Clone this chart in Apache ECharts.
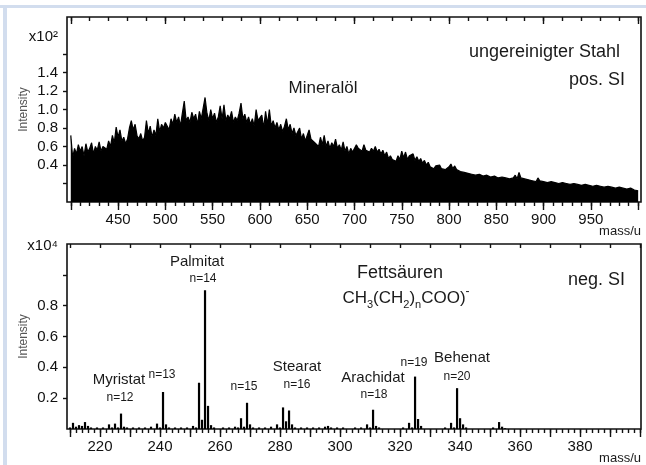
<!DOCTYPE html>
<html>
<head>
<meta charset="utf-8">
<title>Mineralöl / Fettsäuren</title>
<script src="https://cdn.jsdelivr.net/npm/echarts@6.0.0/dist/echarts.min.js"></script>
<style>
  html, body { margin: 0; padding: 0; background: #fff; }
  #main { width: 646px; height: 465px; }
</style>
</head>
<body>
<div id="main"></div>
<script>
// --- oberes Spektrum: ungereinigter Stahl, pos. SI (Intensität x10^2), Masse 400..1000 in Schritten von 2
var topMassStart = 400;
var topMassStep = 2;
var topIntensity = [
  0.72, 0.48, 0.58, 0.52, 0.62, 0.55, 0.60, 0.50, 0.63, 0.54,
  0.58, 0.64, 0.52, 0.60, 0.56, 0.65, 0.55, 0.60, 0.62, 0.57,
  0.66, 0.60, 0.72, 0.64, 0.81, 0.70, 0.78, 0.66, 0.70, 0.63,
  0.68, 0.80, 0.88, 0.78, 0.84, 0.72, 0.68, 0.74, 0.66, 0.70,
  0.88, 0.74, 0.82, 0.70, 0.78, 0.72, 0.90, 0.76, 0.84, 0.80,
  0.86, 0.88, 0.78, 0.90, 0.84, 0.95, 0.86, 0.92, 0.82, 0.96,
  1.09, 0.88, 0.92, 0.86, 0.97, 0.90, 0.95, 0.84, 0.98, 0.90,
  0.92, 1.13, 0.96, 0.88, 1.00, 0.90, 0.96, 0.86, 0.92, 1.04,
  0.90, 1.05, 0.88, 0.94, 0.90, 0.98, 0.86, 0.92, 0.88, 0.96,
  1.07, 0.90, 0.95, 0.86, 0.92, 0.84, 0.90, 0.82, 1.00, 0.88,
  0.86, 0.94, 0.80, 0.98, 0.84, 1.00, 0.82, 0.88, 0.80, 0.86,
  0.78, 0.84, 0.76, 0.82, 0.90, 0.78, 0.84, 0.74, 0.80, 0.72,
  0.70, 0.80, 0.68, 0.74, 0.66, 0.72, 0.78, 0.68, 0.70, 0.64,
  0.66, 0.60, 0.70, 0.62, 0.72, 0.60, 0.66, 0.58, 0.64, 0.60,
  0.68, 0.58, 0.62, 0.56, 0.65, 0.55, 0.60, 0.52, 0.58, 0.54,
  0.56, 0.62, 0.58, 0.60, 0.55, 0.62, 0.56, 0.58, 0.54, 0.58,
  0.55, 0.60, 0.54, 0.57, 0.52, 0.56, 0.50, 0.54, 0.47, 0.50,
  0.46, 0.48, 0.44, 0.50, 0.46, 0.55, 0.48, 0.54, 0.46, 0.50,
  0.48, 0.52, 0.45, 0.49, 0.44, 0.47, 0.42, 0.45, 0.40, 0.43,
  0.38, 0.40, 0.36, 0.39, 0.37, 0.40, 0.36, 0.38, 0.35, 0.37,
  0.38, 0.41, 0.36, 0.39, 0.35, 0.37, 0.33, 0.35, 0.32, 0.34,
  0.31, 0.33, 0.30, 0.32, 0.29, 0.31, 0.30, 0.32, 0.28, 0.30,
  0.29, 0.30, 0.27, 0.29, 0.28, 0.30, 0.26, 0.28, 0.27, 0.28,
  0.26, 0.28, 0.25, 0.27, 0.26, 0.29, 0.25, 0.32, 0.26, 0.28,
  0.25, 0.27, 0.24, 0.26, 0.23, 0.25, 0.22, 0.26, 0.23, 0.24,
  0.22, 0.24, 0.21, 0.23, 0.22, 0.24, 0.21, 0.22, 0.20, 0.22,
  0.21, 0.23, 0.20, 0.22, 0.19, 0.21, 0.20, 0.22, 0.19, 0.20,
  0.18, 0.20, 0.19, 0.21, 0.18, 0.19, 0.17, 0.19, 0.18, 0.20,
  0.17, 0.19, 0.16, 0.18, 0.17, 0.18, 0.16, 0.17, 0.15, 0.17,
  0.16, 0.17, 0.15, 0.16, 0.14, 0.16, 0.15, 0.14, 0.13, 0.14,
  0.12
];
var topTickLabels = [450, 500, 550, 600, 650, 700, 750, 800, 850, 900, 950];
var topYLabels = [0.4, 0.6, 0.8, 1.0, 1.2, 1.4];

// --- unteres Spektrum: Fettsäuren, neg. SI (Intensität x10^4)
var fattyMass = [
  210, 211, 212, 213, 214, 215, 216, 217, 219, 221, 223, 224, 225, 226, 227, 228, 229,
  231, 233, 235, 237, 239, 240, 241, 242, 243, 245, 247, 249, 251, 252, 253, 254, 255,
  256, 257, 258, 261, 263, 265, 266, 267, 268, 269, 270, 271, 273, 275, 277, 279, 280,
  281, 282, 283, 284, 285, 287, 289, 291, 293, 295, 296, 297, 299, 301, 305, 307, 309,
  310, 311, 312, 313, 321, 323, 324, 325, 326, 327, 335, 337, 338, 339, 340, 341, 342,
  351, 353, 354, 355
];
var fattyIntensity = [
  0.010, 0.040, 0.015, 0.025, 0.020, 0.045, 0.020, 0.010, 0.010, 0.010, 0.030, 0.010, 0.035, 0.010, 0.100, 0.015, 0.010,
  0.010, 0.010, 0.010, 0.015, 0.035, 0.010, 0.240, 0.030, 0.010, 0.010, 0.010, 0.010, 0.020, 0.010, 0.300, 0.060, 0.900,
  0.150, 0.025, 0.010, 0.010, 0.010, 0.015, 0.010, 0.070, 0.015, 0.170, 0.030, 0.010, 0.010, 0.010, 0.015, 0.030, 0.010,
  0.140, 0.050, 0.120, 0.030, 0.010, 0.010, 0.010, 0.010, 0.010, 0.015, 0.020, 0.010, 0.010, 0.010, 0.010, 0.010, 0.030,
  0.010, 0.125, 0.020, 0.010, 0.010, 0.040, 0.010, 0.340, 0.065, 0.020, 0.010, 0.040, 0.010, 0.265, 0.070, 0.030, 0.010,
  0.010, 0.045, 0.015, 0.005
];
var bottomTickLabels = [220, 240, 260, 280, 300, 320, 340, 360, 380];
var bottomYLabels = [0.2, 0.4, 0.6, 0.8];

var FONT = '"Liberation Sans", Arial, sans-serif';
var INK = '#111';

function range(a, b, step) {
  var out = [];
  for (var v = a; v <= b + 1e-9; v += step) out.push(Math.round(v * 1000) / 1000);
  return out;
}

var topData = topIntensity.map(function (v, i) { return [topMassStart + i * topMassStep, v]; });
var bottomData = fattyMass.map(function (m, i) { return [m, fattyIntensity[i]]; });

function xAxisOf(grid, min, max, pos, ticks, len, inside, labels) {
  return {
    gridIndex: grid, type: 'value', min: min, max: max, position: pos,
    axisLine: { show: false },
    axisTick: { show: true, inside: inside, length: len, customValues: ticks,
                lineStyle: { color: INK, width: 1.4 } },
    axisLabel: labels ? { show: true, customValues: labels, margin: 10,
                          fontFamily: FONT, fontSize: 15, color: INK }
                      : { show: false },
    splitLine: { show: false }
  };
}

function yAxisOf(grid, max, ticks, labels, topLabelAt, topLabelText) {
  return {
    gridIndex: grid, type: 'value', min: 0, max: max,
    axisLine: { show: false },
    axisTick: { show: true, length: 4, customValues: ticks, lineStyle: { color: INK, width: 1.4 } },
    axisLabel: {
      customValues: labels.concat([topLabelAt]), margin: 9,
      fontFamily: FONT, fontSize: 15, color: INK,
      formatter: function (v) { return v === topLabelAt ? topLabelText : v.toFixed(1); }
    },
    splitLine: { show: false },
    name: 'Intensity', nameLocation: 'middle', nameGap: 37, nameMoveOverlap: false,
    nameTextStyle: { fontFamily: FONT, fontSize: 12, color: '#555' }
  };
}

function txt(x, y, text, size, align) {
  return { type: 'text', x: x, y: y, silent: true,
           style: { text: text, fontFamily: FONT, fontSize: size, fill: '#1a1a1a',
                    align: align || 'center', verticalAlign: 'middle' } };
}

var chart = echarts.init(document.getElementById('main'), null, { renderer: 'canvas' });

chart.setOption({
  animation: false,
  backgroundColor: '#fff',
  grid: [
    { left: 67, top: 17, width: 574, height: 185, show: true, borderColor: INK, borderWidth: 1.6, backgroundColor: 'transparent' },
    { left: 67, top: 244, width: 574, height: 185, show: true, borderColor: INK, borderWidth: 1.6, backgroundColor: 'transparent' }
  ],
  xAxis: [
    xAxisOf(0, 396, 1003, 'bottom', range(400, 1000, 10), 4, false, null),
    xAxisOf(0, 396, 1003, 'bottom', range(400, 1000, 50), 8, false, topTickLabels),
    xAxisOf(0, 396, 1003, 'top', range(400, 1000, 20), 4, true, null),
    xAxisOf(0, 396, 1003, 'top', range(400, 1000, 100), 7, true, null),
    xAxisOf(1, 209, 400.3, 'bottom', range(210, 400, 2), 4, false, null),
    xAxisOf(1, 209, 400.3, 'bottom', range(210, 400, 10), 8, false, bottomTickLabels),
    xAxisOf(1, 209, 400.3, 'top', range(210, 400, 10), 4, true, null)
  ],
  yAxis: [
    yAxisOf(0, 2.0, range(0.2, 1.6, 0.2), topYLabels, 1.78, 'x10²'),
    yAxisOf(1, 1.2, range(0.2, 1.0, 0.2), bottomYLabels, 1.19, 'x10⁴')
  ],
  series: [
    { type: 'line', name: 'Mineralöl', xAxisIndex: 0, yAxisIndex: 0, data: topData,
      showSymbol: false, sampling: 'none', silent: true,
      lineStyle: { color: '#000', width: 1.2 },
      areaStyle: { color: '#000', opacity: 1 } },
    { type: 'bar', name: 'Fettsäuren', xAxisIndex: 4, yAxisIndex: 1, data: bottomData,
      barWidth: 2.2, itemStyle: { color: '#000' }, silent: true }
  ],
  graphic: [
    // hellblauer Rahmen links/oben
    { type: 'rect', shape: { x: 0, y: 5, width: 646, height: 3 }, style: { fill: '#d2ddee' }, silent: true },
    { type: 'rect', shape: { x: 3, y: 5, width: 4, height: 460 }, style: { fill: '#d2ddee' }, silent: true },

    txt(620, 52, 'ungereinigter Stahl', 18, 'right'),
    txt(625, 80, 'pos. SI', 18, 'right'),
    txt(323, 88, 'Mineralöl', 17),
    txt(641, 231, 'mass/u', 13, 'right'),

    txt(197, 262, 'Palmitat', 15),
    txt(203, 279, 'n=14', 12),
    txt(119, 380, 'Myristat', 15),
    txt(120, 398, 'n=12', 12),
    txt(162, 375, 'n=13', 12),
    txt(244, 387, 'n=15', 12),
    txt(297, 367, 'Stearat', 15),
    txt(297, 385, 'n=16', 12),
    txt(400, 273, 'Fettsäuren', 18),
    { type: 'text', x: 406, y: 298, silent: true,
      style: {
        text: '{m|CH}{s|3}{m|(CH}{s|2}{m|)}{s|n}{m|COO)}{p|-}',
        align: 'center', verticalAlign: 'middle', fill: '#1a1a1a',
        rich: {
          m: { fontFamily: FONT, fontSize: 17, lineHeight: 24, fill: '#1a1a1a' },
          s: { fontFamily: FONT, fontSize: 11, lineHeight: 14, verticalAlign: 'bottom', fill: '#1a1a1a' },
          p: { fontFamily: FONT, fontSize: 12, lineHeight: 12, verticalAlign: 'top', fill: '#1a1a1a' }
        }
      } },
    txt(625, 280, 'neg. SI', 18, 'right'),
    txt(373, 378, 'Arachidat', 15),
    txt(374, 395, 'n=18', 12),
    txt(414, 363, 'n=19', 12),
    txt(462, 358, 'Behenat', 15),
    txt(457, 377, 'n=20', 12),
    txt(641, 458, 'mass/u', 13, 'right')
  ]
});
</script>
</body>
</html>
